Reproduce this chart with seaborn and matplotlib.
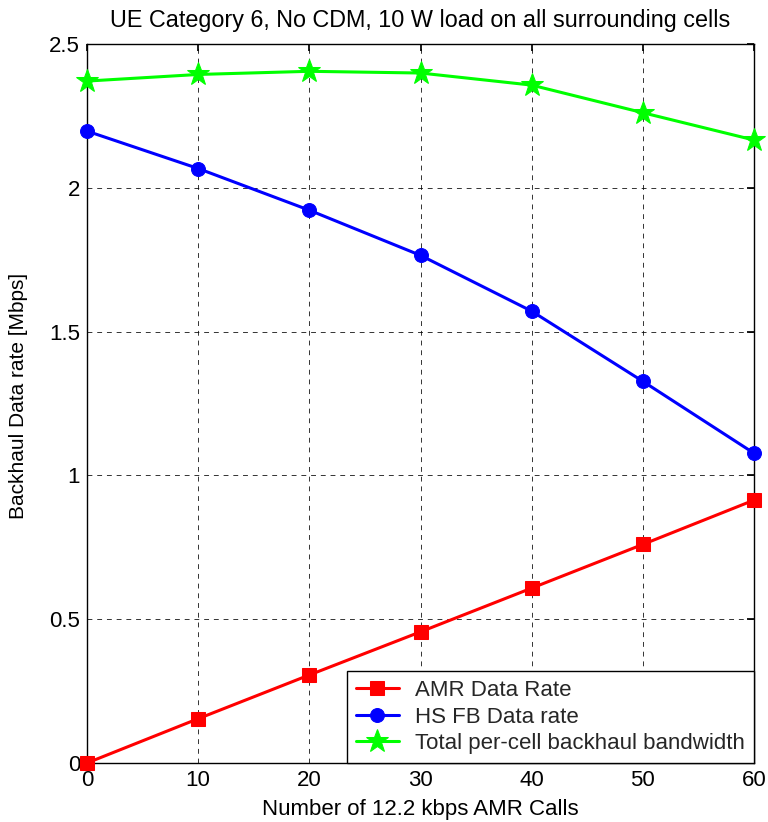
import matplotlib
matplotlib.use("Agg")
import matplotlib.pyplot as plt
import seaborn as sns
import pandas as pd

calls = [0, 10, 20, 30, 40, 50, 60]
amr_rate = [0.0, 0.154, 0.306, 0.456, 0.608, 0.760, 0.914]
hs_fb_rate = [2.197, 2.067, 1.922, 1.765, 1.571, 1.327, 1.077]
total_rate = [2.371, 2.394, 2.405, 2.399, 2.357, 2.261, 2.166]
series_names = ["AMR Data Rate", "HS FB Data rate", "Total per-cell backhaul bandwidth"]
y_ticks = [0, 0.5, 1, 1.5, 2, 2.5]
x_ticks = calls

sns.set_theme(style="white")
plt.rcParams['font.family'] = ['Liberation Sans', 'DejaVu Sans']
plt.rcParams['xtick.direction'] = 'in'
plt.rcParams['ytick.direction'] = 'in'

df = pd.DataFrame({
    "calls": calls * 3,
    "rate": amr_rate + hs_fb_rate + total_rate,
    "series": [series_names[0]] * 7 + [series_names[1]] * 7 + [series_names[2]] * 7,
})

fig = plt.figure(figsize=(7.68, 8.22), dpi=100)
ax = fig.add_axes([0.1133, 0.0718, 0.8685, 0.8747])

palette = {series_names[0]: "#ff0000", series_names[1]: "#0000ff", series_names[2]: "#00ff00"}
markers = {series_names[0]: "s", series_names[1]: "o", series_names[2]: "*"}
sizes = {series_names[0]: 10, series_names[1]: 10, series_names[2]: 17}

for name in series_names:
    sub = df[df["series"] == name]
    sns.lineplot(data=sub, x="calls", y="rate", ax=ax, color=palette[name],
                 marker=markers[name], markersize=sizes[name], markeredgecolor=palette[name],
                 linewidth=2.2, label=name, clip_on=False, zorder=3)

fs = 16
ax.set_xlim(0, 60)
ax.set_ylim(0, 2.5)
ax.set_xticks(x_ticks)
ax.set_yticks(y_ticks)
ax.set_yticklabels(["0", "0.5", "1", "1.5", "2", "2.5"])
ax.tick_params(axis='both', labelsize=fs, length=5, color='black',
               top=True, right=True, labelcolor='black')
ax.tick_params(axis='y', pad=5)
ax.tick_params(axis='x', pad=5)
ax.grid(True, linestyle=(0, (5, 5)), color='black', linewidth=0.7, alpha=0.8)
for s in ax.spines.values():
    s.set_color('black')
    s.set_linewidth(1.0)

ax.set_xlabel("Number of 12.2 kbps AMR Calls", fontsize=fs, color='black', labelpad=6)
ax.set_ylabel("Backhaul Data rate [Mbps]", fontsize=15, color='black', labelpad=10)
ax.yaxis.set_label_coords(-0.088, 0.51)
ax.set_title("UE Category 6, No CDM, 10 W load on all surrounding cells", fontsize=16.8,
             color='black', pad=12)

leg = ax.legend(loc='lower right', fontsize=fs, frameon=True, fancybox=False,
                edgecolor='black', framealpha=1, borderaxespad=0, handlelength=1.9,
                labelspacing=0.25, borderpad=0.4, handletextpad=0.75)
leg.get_frame().set_linewidth(1.0)

fig.savefig("out.png", dpi=100)
